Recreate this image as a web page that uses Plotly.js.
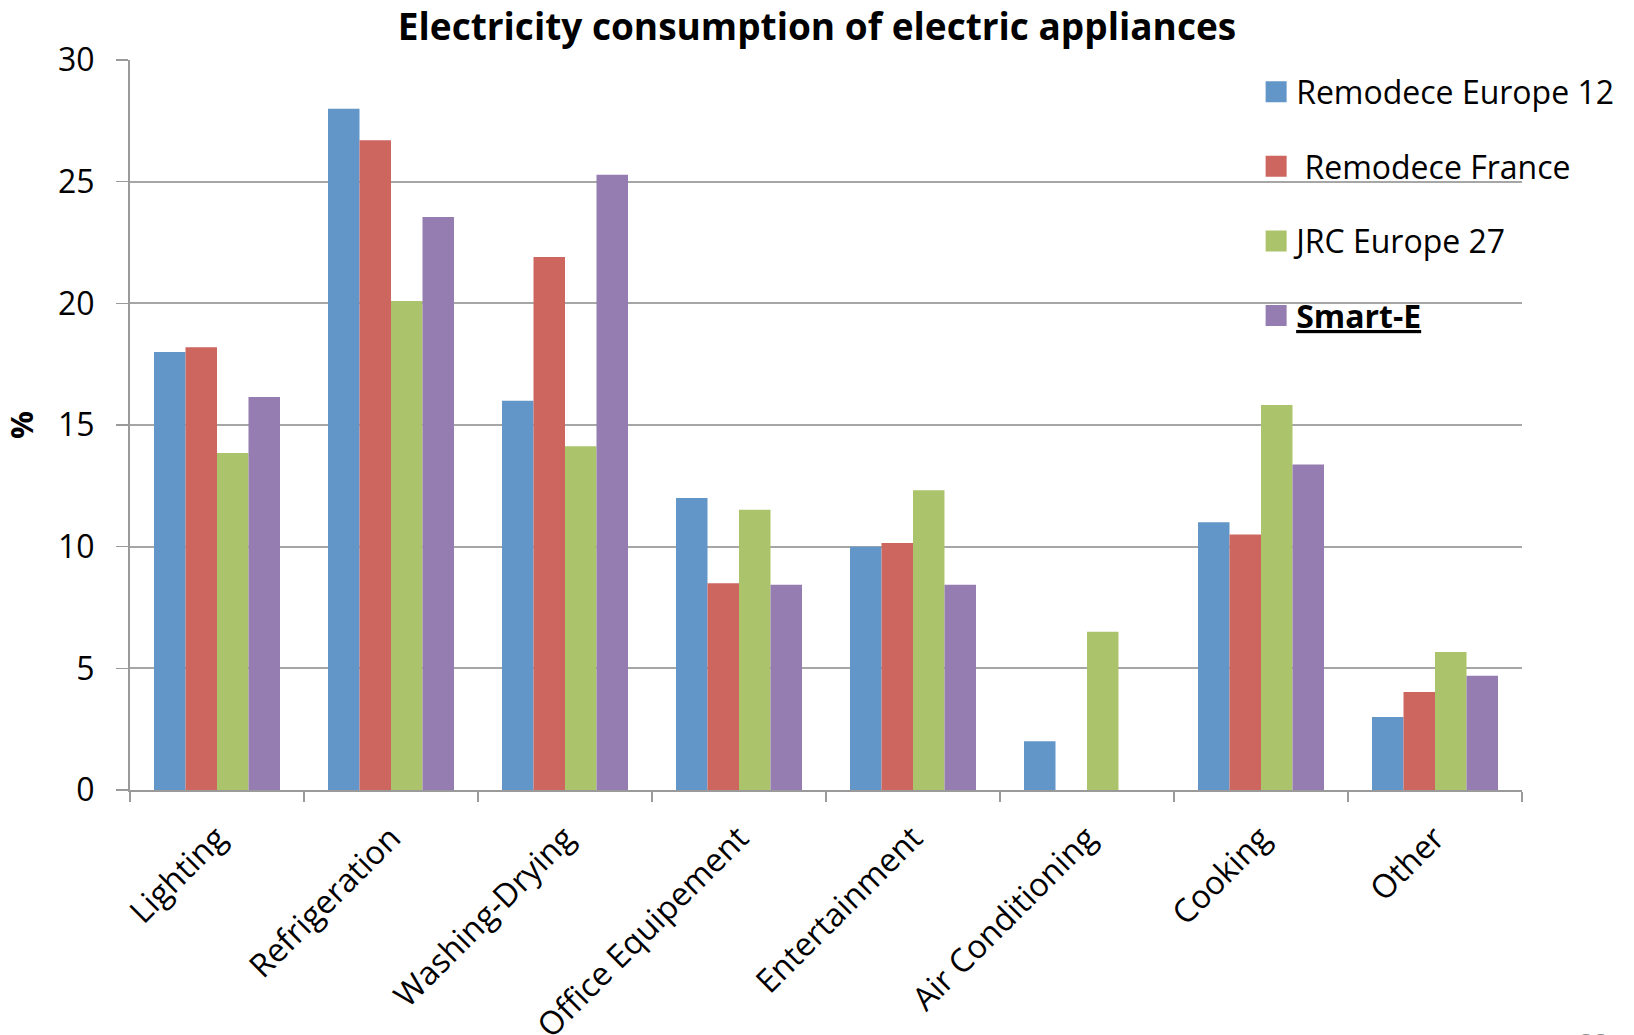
<!DOCTYPE html>
<html>
<head>
<meta charset="utf-8">
<script src="https://cdn.plot.ly/plotly-3.0.1.min.js"></script>
<style>
  html, body { margin: 0; padding: 0; background: #ffffff; }
  #chart { width: 1634px; height: 1035px; }
</style>
</head>
<body>
<div id="chart"></div>
<script>
// Appliance categories along the x axis
const categories = [
  'Lighting', 'Refrigeration', 'Washing-Drying', 'Office Equipement',
  'Entertainment', 'Air Conditioning', 'Cooking', 'Other'
];

// Share of household electricity use (%) per study
const remodeceEurope12 = [18.0, 28.0, 16.0, 12.0, 10.0, 2.0, 11.0, 3.0];
const remodeceFrance   = [18.2, 26.7, 21.9, 8.5, 10.15, null, 10.5, 4.03];
const jrcEurope27      = [13.85, 20.1, 14.13, 11.52, 12.32, 6.5, 15.82, 5.67];
const smartE           = [16.15, 23.55, 25.28, 8.43, 8.43, null, 13.38, 4.7];

const seriesNames = ['Remodece Europe 12', '\u00a0Remodece France', 'JRC Europe 27', '<b><u>Smart-E</u></b>'];
const seriesValues = [remodeceEurope12, remodeceFrance, jrcEurope27, smartE];
const seriesColors = ['#6396C8', '#CD665F', '#ABC46B', '#957CB1'];

const yTickValues = [0, 5, 10, 15, 20, 25, 30];

const FONT = '"Open Sans", Lato, sans-serif';

const traces = seriesValues.map((vals, i) => ({
  type: 'bar',
  name: seriesNames[i],
  x: categories,
  y: vals,
  marker: { color: seriesColors[i], line: { width: 0 } },
  legendgroup: 'g' + i,
  hoverinfo: 'x+y+name'
}));

const layout = {
  width: 1634,
  height: 1035,
  paper_bgcolor: '#ffffff',
  plot_bgcolor: '#ffffff',
  margin: { l: 130, r: 112, t: 60, b: 245, pad: 0 },
  barmode: 'group',
  bargap: 0.276,
  bargroupgap: 0,
  font: { family: FONT, color: '#000000', size: 32 },
  title: {
    text: '<b>Electricity consumption of electric appliances</b>',
    font: { family: FONT, size: 37, color: '#000000' },
    x: 0.5, xref: 'container', xanchor: 'center',
    y: 0.974, yref: 'container', yanchor: 'middle'
  },
  xaxis: {
    type: 'category',
    tickangle: -45,
    ticks: 'outside',
    tickson: 'boundaries',
    ticklen: 10,
    tickwidth: 1.5,
    tickcolor: '#9a9a9a',
    showline: true,
    linecolor: '#9a9a9a',
    linewidth: 2,
    showgrid: false,
    ticklabelstandoff: 14,
    tickfont: { family: FONT, size: 32.5, color: '#000000' },
    automargin: false
  },
  yaxis: {
    range: [0, 30],
    tickvals: yTickValues,
    ticktext: yTickValues.map(String),
    ticks: 'outside',
    ticklen: 12,
    tickwidth: 1.5,
    tickcolor: '#9a9a9a',
    showline: true,
    linecolor: '#9a9a9a',
    linewidth: 2,
    showgrid: true,
    gridcolor: '#a6a6a6',
    gridwidth: 2,
    zeroline: false,
    ticklabelstandoff: 15,
    tickfont: { family: FONT, size: 32, color: '#000000' },
    title: {
      text: '<b>%</b>',
      font: { family: FONT, size: 31, color: '#000000' },
      standoff: 16
    },
    automargin: false
  },
  legend: {
    x: 0.809, xanchor: 'left',
    y: 0.994, yanchor: 'top',
    bgcolor: 'rgba(0,0,0,0)',
    traceorder: 'grouped',
    tracegroupgap: 30,
    font: { family: FONT, size: 32, color: '#000000' }
  },
  annotations: [{
    text: '22',
    xref: 'paper', yref: 'paper',
    x: 1.052, y: -0.318,
    xanchor: 'center', yanchor: 'top',
    showarrow: false,
    font: { family: FONT, size: 26, color: '#8c8c8c' }
  }],
  showlegend: true
};

Plotly.newPlot('chart', traces, layout, { displayModeBar: false, staticPlot: true }).then(gd => {
  // enlarge the square swatches in the legend
  gd.querySelectorAll('.legendpoints path').forEach(p => {
    p.setAttribute('transform', 'translate(20,0) scale(1.75)');
  });
});
</script>
</body>
</html>
